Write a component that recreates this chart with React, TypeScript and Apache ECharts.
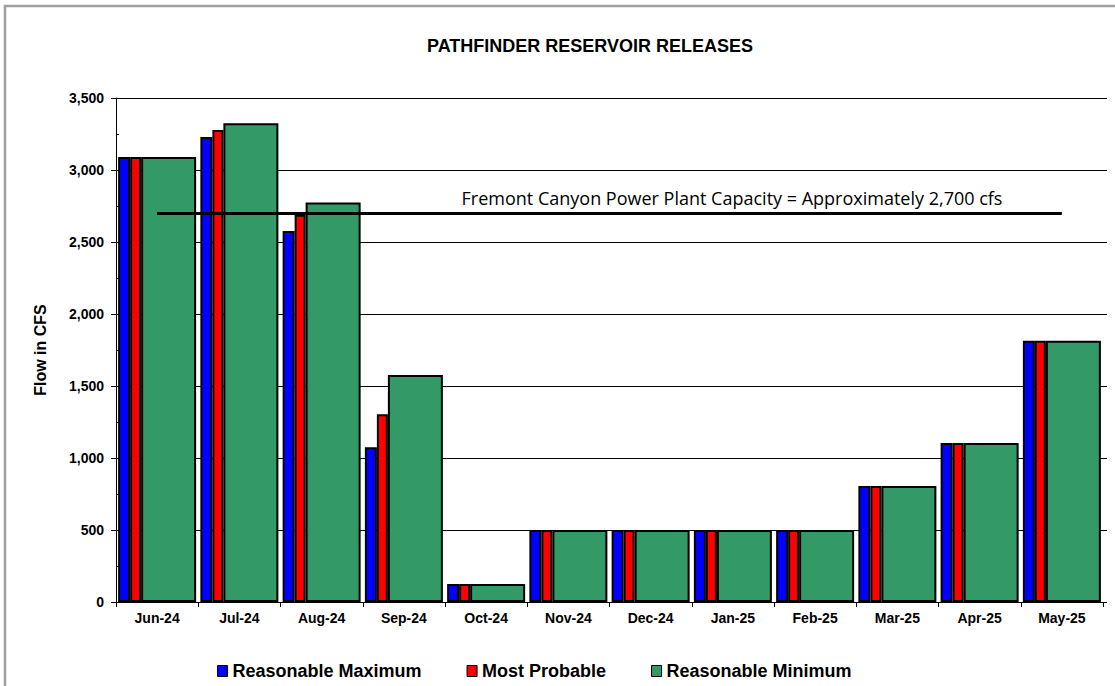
import React, { useEffect, useRef } from "react";
import * as echarts from "echarts";

const categories = ["Jun-24", "Jul-24", "Aug-24", "Sep-24", "Oct-24", "Nov-24", "Dec-24", "Jan-25", "Feb-25", "Mar-25", "Apr-25", "May-25"];
const reasonableMaximum = [3090, 3229, 2576, 1074, 125, 500, 500, 500, 500, 805, 1105, 1815];
const mostProbable = [3090, 3278, 2690, 1303, 125, 500, 500, 500, 500, 805, 1105, 1815];
const reasonableMinimum = [3090, 3324, 2775, 1576, 125, 500, 500, 500, 500, 805, 1105, 1815];
const capacity = 2700;
const capacityText = "Fremont Canyon Power Plant Capacity = Approximately 2,700 cfs";
const yTicks = { min: 0, max: 3500, interval: 500 };

export default function App() {
  const ref = useRef<HTMLDivElement>(null);
  useEffect(() => {
    if (!ref.current) return;
    const chart = echarts.init(ref.current, null, { renderer: "svg" });
    const border = { borderColor: "#000", borderWidth: 2 };
    const arial = "'Liberation Sans', Arial, sans-serif";
    const labelFont = { fontFamily: arial, fontWeight: "bold" as const, fontSize: 14, color: "#000" };
    chart.setOption({
      animation: false,
      backgroundColor: "#fff",
      title: {
        text: "PATHFINDER RESERVOIR RELEASES",
        left: 585,
        textAlign: "center",
        top: 32,
        textStyle: { fontFamily: arial, fontWeight: "bold", fontSize: 18, color: "#000" },
      },
      grid: { left: 116, right: 12, top: 98, bottom: 84 },
      legend: {
        left: 212,
        top: 657,
        itemWidth: 10,
        itemHeight: 11,
        itemGap: 45,
        icon: "rect",
        itemStyle: { borderColor: "#000", borderWidth: 1 },
        textStyle: { fontFamily: arial, fontWeight: "bold", fontSize: 18, color: "#000" },
        data: ["Reasonable Maximum", "Most Probable", "Reasonable Minimum"],
      },
      xAxis: {
        type: "category",
        data: categories,
        boundaryGap: true,
        axisLine: { lineStyle: { color: "#000", width: 1 } },
        axisTick: { show: true, length: 5, lineStyle: { color: "#000" } },
        axisLabel: { ...labelFont, margin: 9 },
      },
      yAxis: [
        {
          type: "value",
          ...yTicks,
          name: "Flow in CFS",
          nameLocation: "middle",
          nameGap: 68,
          nameTextStyle: { fontFamily: arial, fontWeight: "bold", fontSize: 16, color: "#000" },
          axisLine: { show: true, lineStyle: { color: "#000", width: 1 } },
          axisTick: { show: true, length: 5, lineStyle: { color: "#000" } },
          axisLabel: { ...labelFont, margin: 12, formatter: (v: number) => v.toLocaleString("en-US") },
          splitLine: { show: true, lineStyle: { color: "#000", width: 1 } },
        },
        {
          type: "value",
          min: 0,
          max: 3500,
          interval: 250,
          position: "left",
          axisLine: { show: false },
          axisTick: { show: true, inside: true, length: 3, lineStyle: { color: "#000" } },
          axisLabel: { show: false },
          splitLine: { show: false },
        },
        {
          type: "value",
          ...yTicks,
          position: "right",
          axisLine: { show: false },
          axisTick: { show: true, length: 4, lineStyle: { color: "#000" } },
          axisLabel: { show: false },
          splitLine: { show: false },
        },
      ],
      series: [
        { name: "Reasonable Maximum", type: "bar", data: reasonableMaximum, barWidth: 12, barGap: "0%", itemStyle: { color: "#0000FF", ...border } },
        { name: "Most Probable", type: "bar", data: mostProbable, barWidth: 11, barGap: "0%", itemStyle: { color: "#FF0000", ...border } },
        { name: "Reasonable Minimum", type: "bar", data: reasonableMinimum, barWidth: 55, barGap: "0%", itemStyle: { color: "#339966", ...border } },
        {
          name: "Capacity",
          type: "line",
          data: [],
          markLine: {
            silent: true,
            symbol: "none",
            z: 10,
            label: { show: false },
            lineStyle: { color: "#000", width: 3, type: "solid" },
            data: [[{ coord: [0, capacity] }, { coord: [categories.length - 1, capacity] }]],
          },
        },
      ],
      graphic: [
        {
          type: "rect",
          shape: { x: 5, y: 6, width: 1200, height: 800 },
          style: { fill: "none", stroke: "#a0a0a0", lineWidth: 2.5 },
          silent: true,
        },
        {
          type: "text",
          x: 732,
          y: 198,
          style: {
            text: capacityText,
            fill: "#000",
            font: "18px 'Open Sans', 'Noto Sans', sans-serif",
            textAlign: "center",
            textVerticalAlign: "middle",
          },
        },
      ],
    });
    return () => chart.dispose();
  }, []);
  return <div ref={ref} style={{ position: "absolute", left: 0, top: 0, width: 1115, height: 686, background: "#fff" }} />;
}
